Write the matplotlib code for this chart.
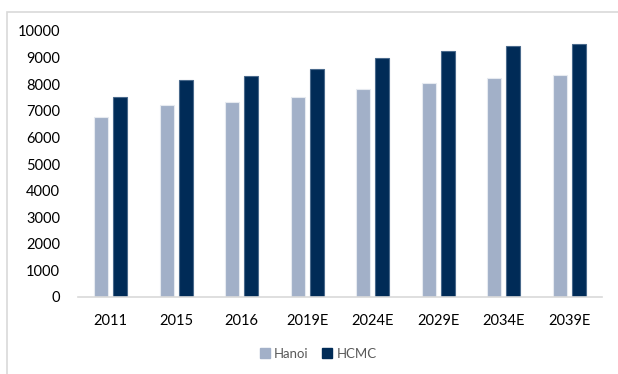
import matplotlib.pyplot as plt
import numpy as np
from matplotlib.patches import Rectangle, Patch

years = ['2011', '2015', '2016', '2019E', '2024E', '2029E', '2034E', '2039E']
hanoi = [6770, 7220, 7330, 7520, 7820, 8045, 8220, 8360]
hcmc = [7500, 8160, 8310, 8570, 8970, 9250, 9435, 9510]

light = '#A2B0C8'
dark = '#002B57'

plt.rcParams['font.family'] = ['Lato', 'DejaVu Sans']

W, H = 618, 374
fig = plt.figure(figsize=(W / 100, H / 100), dpi=100)
ax = fig.add_axes([78 / W, 1 - 297 / H, (602 - 78) / W, (297 - 31) / H])

# outer frame, runs off the right and bottom edges
fig.patches.append(Rectangle((7 / W, -0.1), 1.2, 1 - 12 / H + 0.1,
                             transform=fig.transFigure, fill=False,
                             edgecolor='#D9D9D9', linewidth=1.2))

x = np.arange(len(years))
bw = 0.22
ax.bar(x - 0.145, hanoi, bw, color=light, edgecolor='#E6EAF0', linewidth=0.8, label='Hanoi')
ax.bar(x + 0.145, hcmc, bw, color=dark, edgecolor='#4A6A8C', linewidth=0.8, label='HCMC')

ax.set_xlim(-0.5, len(years) - 0.5)
ax.set_ylim(0, 10000)
ax.set_yticks(range(0, 10001, 1000))
ax.set_xticks(x)
ax.set_xticklabels(years)

for s in ['top', 'right', 'left']:
    ax.spines[s].set_visible(False)
ax.spines['bottom'].set_color('#D9D9D9')
ax.spines['bottom'].set_linewidth(1.2)
ax.tick_params(axis='both', length=0, labelsize=10.5, colors='#000000')
ax.tick_params(axis='y', pad=13)
ax.tick_params(axis='x', pad=12)

handles = [Patch(color=light, label='Hanoi'), Patch(color=dark, label='HCMC')]
fig.legend(handles=handles, loc='center', bbox_to_anchor=(318 / W, 1 - 354 / H),
           ncol=2, frameon=False, fontsize=9.5, labelcolor='#595959',
           handlelength=0.8, handleheight=0.8, handletextpad=0.3, columnspacing=1.0)

fig.savefig('out.png', dpi=100)
